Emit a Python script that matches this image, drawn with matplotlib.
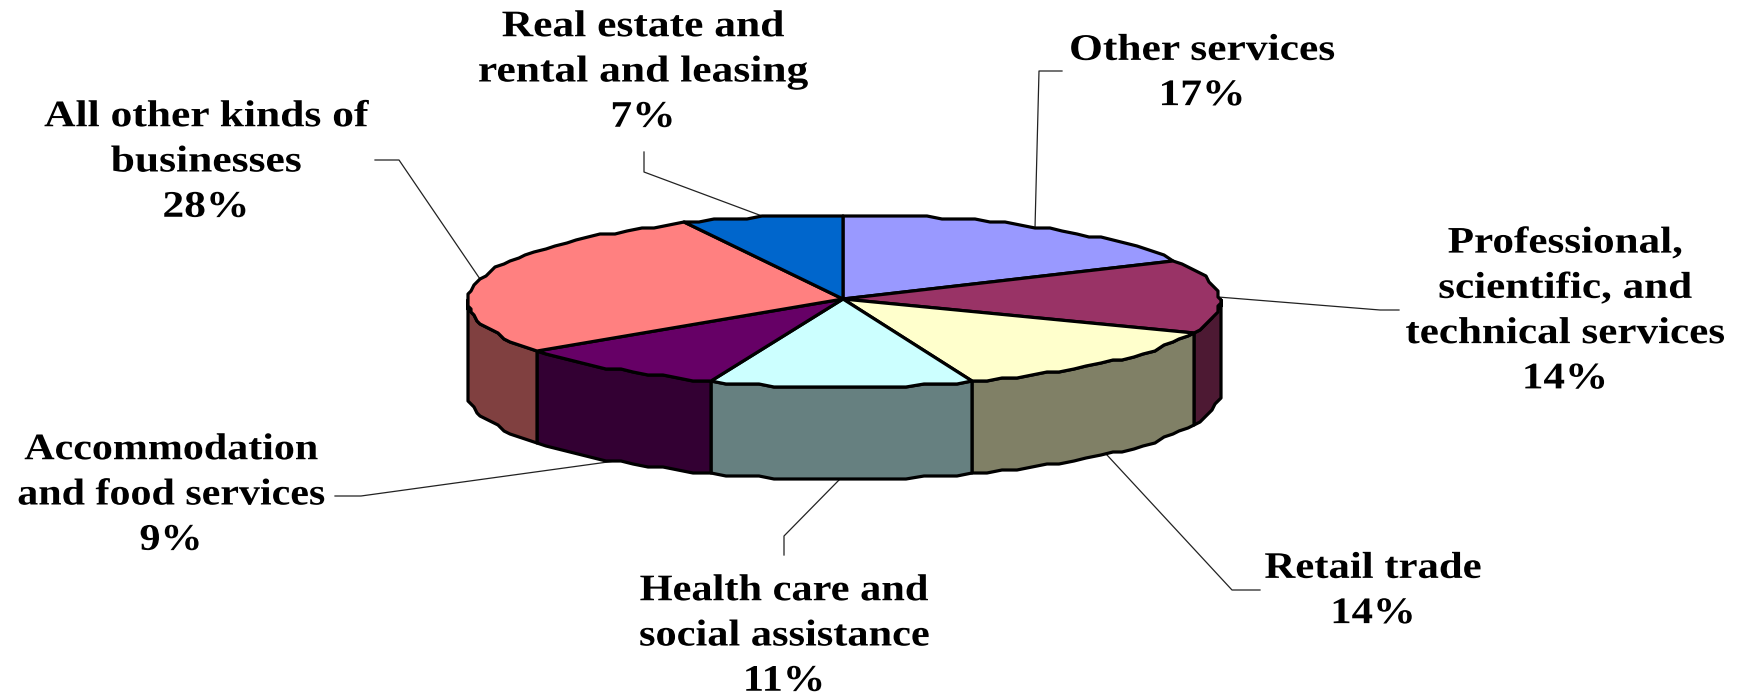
import numpy as np
import matplotlib
matplotlib.use('Agg')
import matplotlib.pyplot as plt
from matplotlib.patches import Polygon
from matplotlib.patheffects import AbstractPathEffect
from matplotlib.transforms import Affine2D

labels = ['Other services', 'Professional,\nscientific, and\ntechnical services', 'Retail trade',
          'Health care and\nsocial assistance', 'Accommodation\nand food services',
          'All other kinds of\nbusinesses', 'Real estate and\nrental and leasing']
shares = [17, 14, 13.5, 11.3, 9.4, 27.8, 7]
top_colors = ['#9999FF', '#993366', '#FFFFCC', '#CCFFFF', '#660066', '#FF8080', '#0066CC']
side_colors = ['#4D4D80', '#4D1933', '#808066', '#668080', '#330033', '#804040', '#003366']

# label centres, widening and leader line ends, in pixels
label_x = [1202, 1565, 1373, 784, 171, 206, 643]
label_y = [73, 311, 591, 636, 495, 162, 72]
label_sx = [1.16, 1.15, 1.14, 1.13, 1.12, 1.16, 1.16]
leader_mid = [(1039, 71), (1380, 310), (1232, 590), (784, 536), (361, 496), (399, 160), (644, 172)]
leader_end = [(1062, 71), (1399, 310), (1260, 590), (784, 555), (335, 496), (375, 160), (644, 152)]

cx, cy = 844, 301  # rim centre
hub = (843, 299)
rx, ry = 376, 86
depth = 92
grain = 3  # the rim of the reference is drawn on a coarse grid


class Stretch(AbstractPathEffect):
    # the reference text is wider than the font, widen it around its centre
    def __init__(self, x0, sx):
        super().__init__()
        self.x0 = x0
        self.sx = sx

    def draw_path(self, renderer, gc, tpath, affine, rgbFace=None):
        a = affine + Affine2D().translate(-self.x0, 0).scale(self.sx, 1).translate(self.x0, 0)
        renderer.draw_path(gc, tpath, a, rgbFace)


def rim(a0, a1, drop=0):
    # angles in degrees clockwise from the top
    n = max(int(abs(a1 - a0) / 2.5), 1)
    t = np.radians(np.linspace(a0, a1, n + 1))
    x = cx + rx * np.sin(t)
    y = cy - ry * np.cos(t)
    return np.column_stack([np.round(x / grain) * grain, np.round(y / grain) * grain + drop])


fig = plt.figure(figsize=(17.38, 6.97), dpi=100)
ax = fig.add_axes([0, 0, 1, 1])
ax.set_xlim(0, 1738)
ax.set_ylim(697, 0)
ax.axis('off')

edges = np.cumsum([0] + shares) / sum(shares) * 360

# leaders go under the pie
for i in range(len(shares)):
    mid = (edges[i] + edges[i + 1]) / 2
    front = 90 < mid < 270
    p = rim(mid, mid, depth if front else 0)[0]
    ax.plot([p[0], leader_mid[i][0], leader_end[i][0]], [p[1], leader_mid[i][1], leader_end[i][1]],
            color='#222222', lw=0.9, zorder=1)

# walls, only the front half shows
for i in range(len(shares)):
    a0, a1 = max(edges[i], 90), min(edges[i + 1], 270)
    if a0 >= a1:
        continue
    upper = rim(a0, a1)
    lower = rim(a0, a1, depth)[::-1]
    ax.add_patch(Polygon(np.vstack([upper, lower]), closed=True, facecolor=side_colors[i],
                         edgecolor='black', lw=2.3, joinstyle='round', zorder=2))

# top faces
for i in range(len(shares)):
    pts = np.vstack([[hub], rim(edges[i], edges[i + 1])])
    ax.add_patch(Polygon(pts, closed=True, facecolor=top_colors[i], edgecolor='black',
                         lw=2.3, joinstyle='round', zorder=3))

for i in range(len(shares)):
    t = ax.text(label_x[i], label_y[i], f'{labels[i]}\n{shares[i]:.0f}%', ha='center', va='center',
                multialignment='center', family='Liberation Serif', weight='bold', fontsize=27,
                linespacing=1.38, color='black', zorder=4)
    t.set_path_effects([Stretch(label_x[i], label_sx[i])])

fig.savefig('out.png', dpi=100)
